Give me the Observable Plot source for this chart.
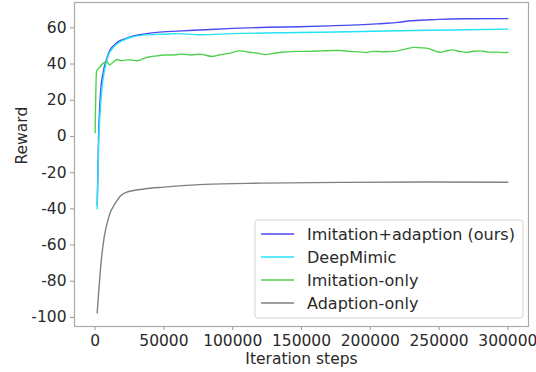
<!DOCTYPE html>
<html>
<head>
<meta charset="utf-8">
<script src="https://cdn.jsdelivr.net/npm/d3@7"></script>
<script src="https://cdn.jsdelivr.net/npm/@observablehq/plot@0.6"></script>
<style>
  html, body { margin: 0; padding: 0; background: white; }
</style>
</head>
<body>
<div id="chart"></div>
<script>
const seriesNames = ["Imitation+adaption (ours)", "DeepMimic", "Imitation-only", "Adaption-only"];
const seriesColors = ["#4a4af2", "#22e4f4", "#4ed24e", "#808080"];

const oursSteps = [1500, 2500, 4000, 6000, 8000, 11000, 14000, 17000, 22000, 28000, 35000, 45000, 60000, 76000, 100000, 125000, 148000, 170000, 195000, 205000, 212000, 220000, 228000, 240000, 250000, 270000, 300000];
const oursValues = [-38, 0, 25, 36, 42, 48, 50.5, 52.5, 54, 55.5, 56.5, 57.5, 58.2, 58.8, 59.7, 60.3, 60.6, 61.1, 61.8, 62.2, 62.5, 63, 63.8, 64.3, 64.7, 65, 65.1];

const deepSteps = [1500, 2500, 3500, 5000, 6500, 8000, 10000, 12000, 16000, 20000, 26000, 35000, 50000, 60000, 76000, 100000, 148000, 185000, 221000, 260000, 300000];
const deepValues = [-40, -5, 12, 27, 35, 40.5, 45.5, 48, 51.2, 53, 54.8, 56, 56.5, 56.8, 56.2, 56.8, 57.4, 57.8, 58.4, 58.8, 59.3];

const imitSteps = [0, 1000, 3000, 6000, 8500, 10500, 13000, 16000, 19000, 23000, 26000, 30000, 35000, 40000, 45000, 50000, 57000, 63000, 70000, 76000, 85000, 90000, 98000, 105000, 112000, 118000, 124000, 130000, 136000, 148000, 156000, 165000, 173000, 178000, 185000, 192000, 197000, 202000, 210000, 218000, 226000, 232000, 236000, 241000, 246000, 251000, 255000, 260000, 265000, 270000, 275000, 280000, 286000, 292000, 298000, 300000];
const imitValues = [2, 36, 38, 40.5, 41.5, 39.5, 41, 42.5, 41.8, 42.3, 42.2, 41.8, 43, 44, 44.5, 45, 45, 45.5, 45, 45.5, 44.2, 45, 46, 47.3, 46.5, 46, 45.2, 46, 46.5, 47, 47, 47.3, 47.5, 47.5, 47, 46.7, 46.4, 47, 46.8, 47, 48.4, 49.2, 49, 48.8, 47.5, 46.5, 47.2, 47.8, 47, 46.5, 47.1, 47.3, 46.6, 46.6, 46.3, 46.5];

const adaptSteps = [1500, 4400, 6500, 8700, 11000, 13800, 18900, 23300, 35700, 50200, 79300, 120000, 180000, 240000, 300000];
const adaptValues = [-97.5, -69, -56, -48, -42, -38, -32.5, -30.7, -29, -28, -26.5, -25.8, -25.4, -25.2, -25.3];

const xTicks = [0, 50000, 100000, 150000, 200000, 250000, 300000];
const yTicks = [-100, -80, -60, -40, -20, 0, 20, 40, 60];

const toRows = (steps, values, name) => steps.map((s, i) => ({step: s, value: values[i], series: name}));
const allSeries = [
  toRows(oursSteps, oursValues, seriesNames[0]),
  toRows(deepSteps, deepValues, seriesNames[1]),
  toRows(imitSteps, imitValues, seriesNames[2]),
  toRows(adaptSteps, adaptValues, seriesNames[3])
];

const W = 536, H = 372;
const plot = Plot.plot({
  width: W,
  height: H,
  marginLeft: 74,
  marginRight: 8,
  marginTop: 2,
  marginBottom: 46,
  style: {fontFamily: "DejaVu Sans", fontSize: "15.5px", background: "white", color: "#2a2a2a"},
  x: {domain: [-15000, 315000], ticks: xTicks, tickFormat: d => String(d)},
  y: {domain: [-105, 74], ticks: yTicks, tickFormat: d => String(d)},
  marks: [
    Plot.axisX({ticks: xTicks, tickFormat: d => String(d), tickSize: 4, tickPadding: 4, label: null, stroke: "#999", fontSize: 15.5}),
    Plot.axisY({ticks: yTicks, tickFormat: d => String(d), tickSize: 4, tickPadding: 4, label: null, stroke: "#999", fontSize: 15.5}),
    ...allSeries.map((rows, i) => Plot.line(rows, {x: "step", y: "value", stroke: seriesColors[i], strokeWidth: 1.4, curve: "monotone-x"})),
    Plot.frame({stroke: "#aaaaaa", strokeWidth: 1.2}),
    Plot.text(["Iteration steps"], {frameAnchor: "bottom", dy: 37, fontSize: 15.5, fill: "#2a2a2a"}),
    Plot.text(["Reward"], {frameAnchor: "left", dx: -52, rotate: -90, fontSize: 15.5, fill: "#2a2a2a"})
  ]
});
document.getElementById("chart").appendChild(plot);

// Legend drawn inside the plot area, lower right
const svg = d3.select(plot);
const lg = svg.append("g").attr("font-family", "DejaVu Sans").attr("font-size", 16).attr("text-anchor", "start");
lg.append("rect").attr("x", 255).attr("y", 220).attr("width", 268).attr("height", 98)
  .attr("rx", 3).attr("fill", "white").attr("fill-opacity", 0.85).attr("stroke", "#d4d4d4");
seriesNames.forEach((name, i) => {
  const y = 234 + i * 23;
  lg.append("line").attr("x1", 261).attr("x2", 294).attr("y1", y).attr("y2", y)
    .attr("stroke", seriesColors[i]).attr("stroke-width", 2).attr("stroke-opacity", 0.75);
  lg.append("text").attr("x", 307).attr("y", y).attr("dy", "0.35em").attr("text-anchor", "start")
    .attr("fill", "#2a2a2a").text(name);
});
</script>
</body>
</html>
